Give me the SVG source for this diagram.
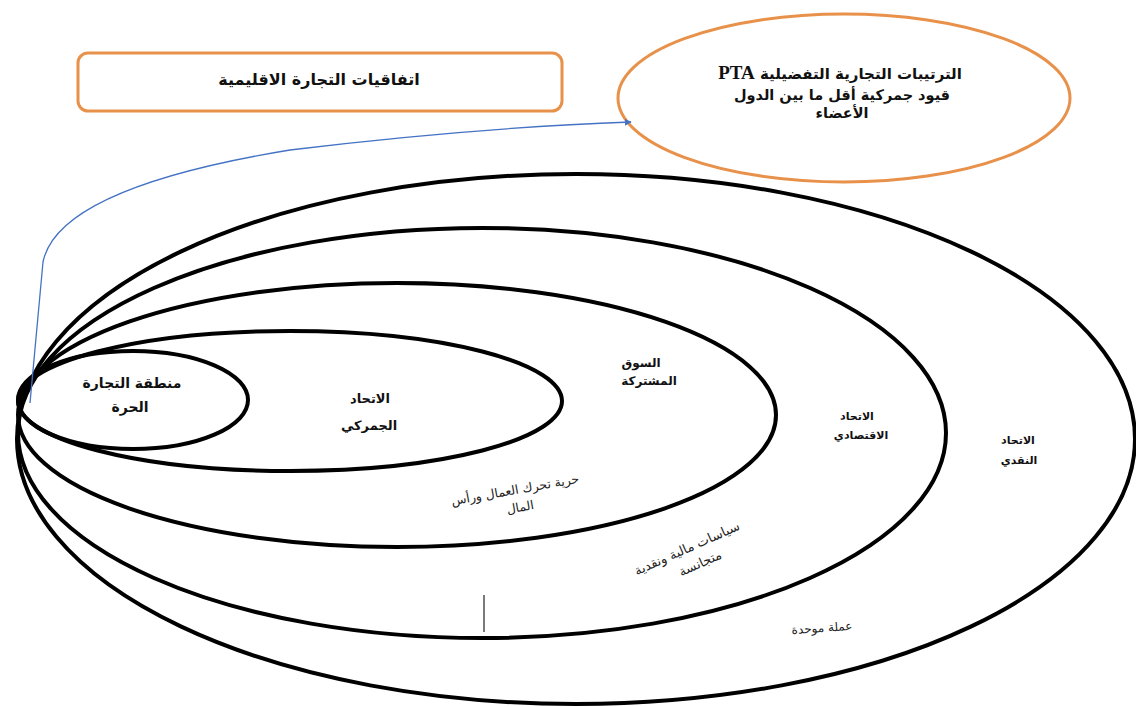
<svg xmlns="http://www.w3.org/2000/svg" width="1136" height="707" viewBox="0 0 1136 707">
<style>
.ring{fill:none;stroke:#000;stroke-width:4}
.orange{fill:#fff;stroke:#E8914A;stroke-width:3}
.t{font-family:"DejaVu Sans","Liberation Sans",sans-serif;font-weight:bold;fill:#111;text-anchor:middle}
.n{font-family:"DejaVu Sans","Liberation Sans",sans-serif;fill:#222;text-anchor:middle}
</style>
<defs>
<marker id="arr" viewBox="0 0 10 10" refX="9" refY="5" markerWidth="7" markerHeight="7" orient="auto" markerUnits="userSpaceOnUse">
<path d="M0,0 L10,5 L0,10 z" fill="#4472C4"/>
</marker>
</defs>
<rect width="1136" height="707" fill="#fff"/>
<g id="rings">
<g id="monetary-union"><ellipse class="ring" cx="576" cy="439" rx="559" ry="265"/>
<text class="t" font-size="11" x="1018" y="444" direction="rtl">الاتحاد</text>
<text class="t" font-size="11" x="1019" y="464" direction="rtl">النقدي</text>
<text class="n" font-size="12" x="822" y="632" direction="rtl" transform="rotate(-4 822 628)">عملة موحدة</text>
</g>
<g id="economic-union"><ellipse class="ring" cx="482" cy="433" rx="464" ry="205"/>
<text class="t" font-size="11" x="857" y="420" direction="rtl">الاتحاد</text>
<text class="t" font-size="11" x="861" y="439" direction="rtl">الاقتصادي</text>
<g transform="rotate(-24 690 555)">
<text class="n" font-size="13" x="690" y="552" direction="rtl">سياسات مالية ونقدية</text>
<text class="n" font-size="13" x="696" y="571" direction="rtl">متجانسة</text>
</g>
</g>
<g id="common-market"><ellipse class="ring" cx="397" cy="415" rx="379" ry="132"/>
<text class="t" font-size="12" x="641" y="367" direction="rtl">السوق</text>
<text class="t" font-size="12" x="649" y="385" direction="rtl">المشتركة</text>
<g transform="rotate(-10 516 495)">
<text class="n" font-size="12.5" x="516" y="494" direction="rtl">حرية تحرك العمال ورأس</text>
<text class="n" font-size="12.5" x="518" y="512" direction="rtl">المال</text>
</g>
</g>
<g id="customs-union"><ellipse class="ring" cx="290" cy="401" rx="272" ry="70"/>
<text class="t" font-size="13" x="370" y="403" direction="rtl">الاتحاد</text>
<text class="t" font-size="13" x="369" y="430" direction="rtl">الجمركي</text>
</g>
<g id="free-trade-area"><ellipse class="ring" cx="133" cy="400" rx="115" ry="49"/>
<text class="t" font-size="14" x="132" y="388" direction="rtl">منطقة التجارة</text>
<text class="t" font-size="14" x="130" y="412" direction="rtl">الحرة</text>
</g>
</g>
<g id="regional-agreements">
<rect class="orange" x="78" y="53" width="484" height="58" rx="10"/>
<text class="t" font-size="16" x="319" y="85" direction="rtl">اتفاقيات التجارة الاقليمية</text>
</g>
<g id="pta">
<ellipse class="orange" cx="844" cy="98" rx="226" ry="84"/>
<text class="t" font-size="15" x="840" y="79" direction="rtl">الترتيبات التجارية التفضيلية <tspan font-family="Liberation Serif,serif" font-size="19">PTA</tspan></text>
<text class="t" font-size="14.5" x="842" y="100" direction="rtl">قيود جمركية أقل ما بين الدول</text>
<text class="t" font-size="14.5" x="842" y="118" direction="rtl">الأعضاء</text>
</g>
<g id="connectors">
<path d="M30,403 L43,262 Q58,188 290,150 Q470,128 631,122" fill="none" stroke="#4472C4" stroke-width="1.3" marker-end="url(#arr)"/>
<line x1="484" y1="595" x2="484" y2="632" stroke="#333" stroke-width="1.3"/>
</g>
</svg>
